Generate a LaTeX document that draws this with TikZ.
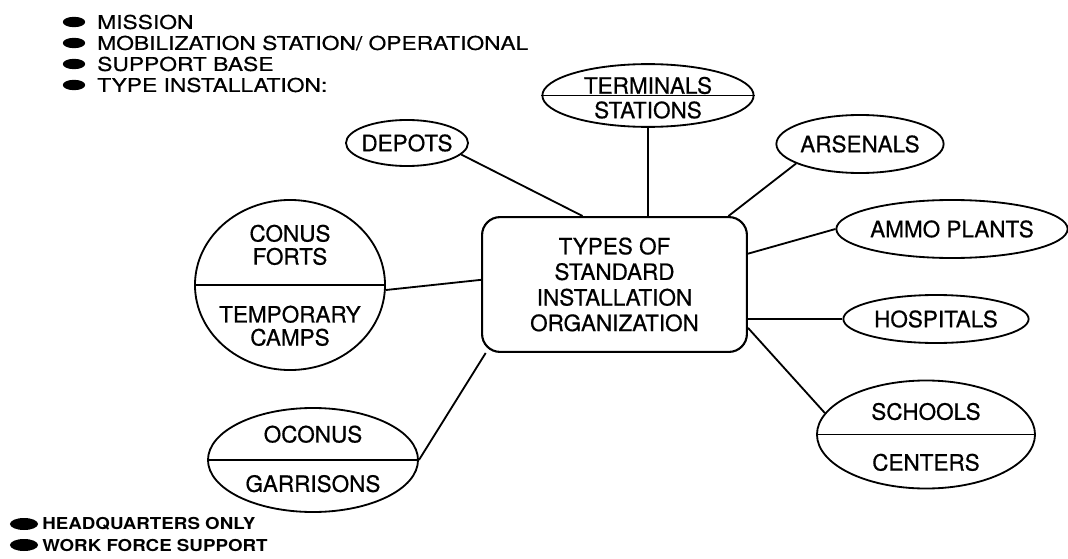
\documentclass[tikz,border=0pt]{standalone}
\usepackage{fontspec}
\setmainfont{TeX Gyre Heros}[FakeBold=0.6]
\newfontfamily\listsans{TeX Gyre Heros}[FakeStretch=1.2,FakeBold=0.6]
\newfontfamily\hqsans{TeX Gyre Heros}[FakeStretch=1.14]
\usetikzlibrary{shapes.geometric,positioning}

\begin{document}
\begin{tikzpicture}[x=0.025cm,y=-0.025cm,
    oval/.style={draw,ellipse,line width=1.3pt,inner sep=0pt},
    lbl/.style={font=\fontsize{16}{16.4}\selectfont,align=center,inner sep=0pt},
    item/.style={font=\listsans\fontsize{13.5}{15}\selectfont,anchor=west,inner sep=0pt},
    hqitem/.style={font=\hqsans\bfseries\fontsize{11.7}{13}\selectfont,anchor=west,inner sep=0pt},
    link/.style={line width=1.3pt}]
\useasboundingbox (0,0) rectangle (1068,559);

% top list
\foreach \txt [count=\i] in {MISSION,MOBILIZATION STATION/ OPERATIONAL,SUPPORT BASE,TYPE INSTALLATION:}{
  \fill (74,1+21*\i) ellipse (0.28cm and 0.13cm);
  \node[item] (top\i) at (97,1+21*\i) {\txt};
}

% centre
\node[draw,line width=1.5pt,rounded corners=0.45cm,minimum width=6.62cm,minimum height=3.37cm,
  font=\fontsize{16}{18.2}\selectfont,align=center] (sio) at (614.5,284.5)
  {TYPES OF\\STANDARD\\INSTALLATION\\ORGANIZATION};

% ovals
\node[oval,minimum width=5.28cm,minimum height=1.57cm] (terminals) at (648,95.5) {};
\draw[link] (terminals.west) -- (terminals.east);
\node[lbl,above=0.8pt of terminals.center] (terminalsup) {TERMINALS};
\node[lbl,below=4pt of terminals.center] (terminalsdn) {STATIONS};

\node[oval,minimum width=3.05cm,minimum height=1.15cm] (depots) at (407,143) {};
\node[lbl] (depotstxt) at (depots) {DEPOTS};

\node[oval,minimum width=4.18cm,minimum height=1.45cm] (arsenals) at (860,144) {};
\node[lbl] (arsenalstxt) at (arsenals) {ARSENALS};

\node[oval,minimum width=5.78cm,minimum height=1.45cm] (ammo) at (952,229) {};
\node[lbl] (ammotxt) at (ammo) {AMMO PLANTS};

\node[oval,minimum width=4.63cm,minimum height=1.2cm] (hospitals) at (936,319) {};
\node[lbl] (hospitalstxt) at (hospitals) {HOSPITALS};

\node[oval,minimum width=5.45cm,minimum height=2.7cm] (schools) at (926,434.5) {};
\draw[link] (schools.west) -- (schools.east);
\node[lbl,above=10pt of schools.center] (schoolsup) {SCHOOLS};
\node[lbl,below=13.5pt of schools.center] (schoolsdn) {CENTERS};

\node[oval,minimum width=5.25cm,minimum height=2.6cm] (oconus) at (313,460) {};
\draw[link] (oconus.west) -- (oconus.east);
\node[lbl,above=12pt of oconus.center] (oconusup) {OCONUS};
\node[lbl,below=10.5pt of oconus.center] (oconusdn) {GARRISONS};

\node[oval,minimum width=4.75cm,minimum height=4.25cm] (conus) at (290,285) {};
\draw[link] (conus.west) -- (conus.east);
\node[lbl,above=14pt of conus.center] (conusup) {CONUS\\FORTS};
\node[lbl,below=14.5pt of conus.center] (conusdn) {TEMPORARY\\CAMPS};

% links
\draw[link] (depots.-12) -- (sio.115);
\draw[link] (terminals.south) -- (terminals.south |- sio.north);
\draw[link] (arsenals.197) -- (sio.31);
\draw[link] (ammo.west) -- (sio.13.4);
\draw[link] (hospitals.west) -- (hospitals.west -| sio.east);
\draw[link] (schools.168.5) -- (sio.-18.2);
\draw[link] (oconus.east) -- (sio.208.5);
\draw[link] (conus.-3) -- (sio.178);

% bottom list
\foreach \txt [count=\i] in {HEADQUARTERS ONLY,WORK FORCE SUPPORT}{
  \fill (24,503+21*\i) ellipse (0.35cm and 0.15cm);
  \node[hqitem] (hq\i) at (42,503+21*\i) {\txt};
}
\end{tikzpicture}
\end{document}
